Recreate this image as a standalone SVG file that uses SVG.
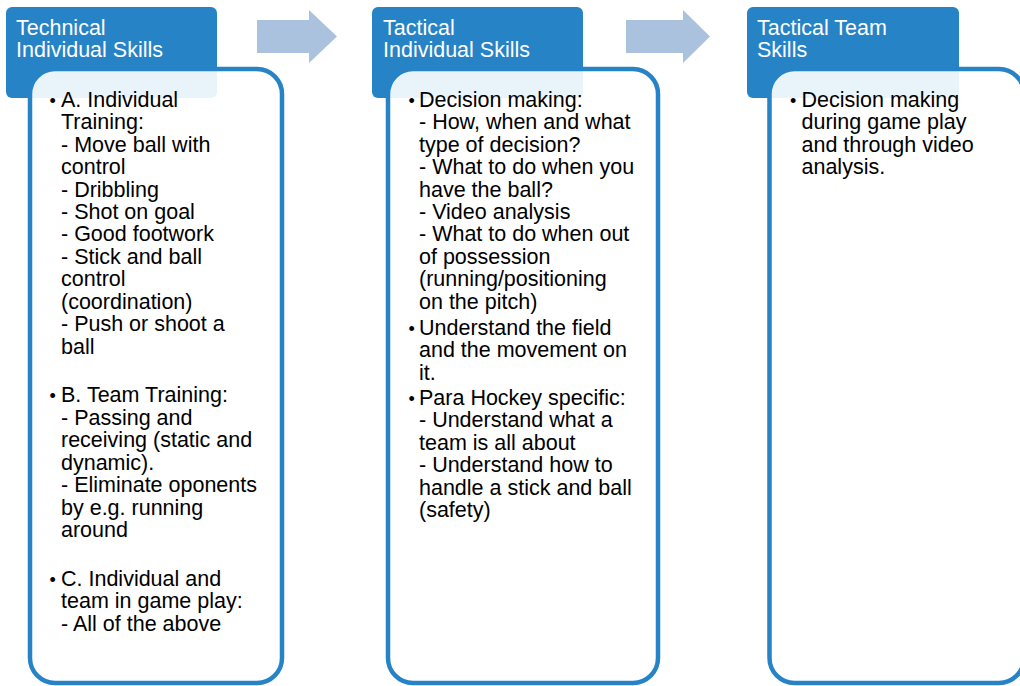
<svg xmlns="http://www.w3.org/2000/svg" width="1020" height="686" viewBox="0 0 1020 686">
<style>
.hdr{fill:#2683C6;}
.body{fill:#FFFFFF;fill-opacity:0.9;stroke:#2683C6;stroke-width:4.5;}
.ht{font-family:"Liberation Sans",Arial,sans-serif;font-size:21.5px;fill:#FFFFFF;}
.bt{font-family:"Liberation Sans",Arial,sans-serif;font-size:21.5px;fill:#000000;}
.bl{font-family:"Liberation Sans",Arial,sans-serif;font-size:18px;fill:#000000;}
.arr{fill:#ABC2DE;}
</style>
<rect width="1020" height="686" fill="#FFFFFF"/>
<g id="connectors">
  <polygon class="arr" points="257,20 309,20 309,10 337,36.5 309,63 309,53 257,53"/>
  <polygon class="arr" points="626,20 683,20 683,10 710,36.5 683,63 683,53 626,53"/>
</g>
<g id="node-technical">
  <rect class="hdr" x="6" y="7" width="211" height="91" rx="6"/>
  <rect class="body" x="30" y="69" width="252" height="614" rx="25"/>
  <text class="ht" x="16" y="35">Technical</text>
  <text class="ht" x="16" y="57">Individual Skills</text>
  <text class="bl" x="49.5" y="106.5">•</text>
  <text class="bl" x="49.5" y="402.1">•</text>
  <text class="bl" x="49.5" y="585.8">•</text>
  <text class="bt" x="61">
    <tspan x="61" y="106.7">A. Individual</tspan>
    <tspan x="61" y="129.15">Training:</tspan>
    <tspan x="61" y="151.6">- Move ball with</tspan>
    <tspan x="61" y="174.05">control</tspan>
    <tspan x="61" y="196.5">- Dribbling</tspan>
    <tspan x="61" y="218.95">- Shot on goal</tspan>
    <tspan x="61" y="241.4">- Good footwork</tspan>
    <tspan x="61" y="263.85">- Stick and ball</tspan>
    <tspan x="61" y="286.3">control</tspan>
    <tspan x="61" y="308.75">(coordination)</tspan>
    <tspan x="61" y="331.2">- Push or shoot a</tspan>
    <tspan x="61" y="353.65">ball</tspan>
    <tspan x="61" y="402.3">B. Team Training:</tspan>
    <tspan x="61" y="424.75">- Passing and</tspan>
    <tspan x="61" y="447.2">receiving (static and</tspan>
    <tspan x="61" y="469.65">dynamic).</tspan>
    <tspan x="61" y="492.1">- Eliminate oponents</tspan>
    <tspan x="61" y="514.55">by e.g. running</tspan>
    <tspan x="61" y="537">around</tspan>
    <tspan x="61" y="586">C. Individual and</tspan>
    <tspan x="61" y="608.45">team in game play:</tspan>
    <tspan x="61" y="630.9">- All of the above</tspan>
  </text>
</g>
<g id="node-tactical-individual">
  <rect class="hdr" x="372" y="7" width="211" height="91" rx="6"/>
  <rect class="body" x="388" y="69" width="270" height="614" rx="25"/>
  <text class="ht" x="383" y="35">Tactical</text>
  <text class="ht" x="383" y="57">Individual Skills</text>
  <text class="bl" x="408.5" y="106.5">•</text>
  <text class="bl" x="408.5" y="334.8">•</text>
  <text class="bl" x="408.5" y="404.8">•</text>
  <text class="bt" x="419">
    <tspan x="419" y="106.7">Decision making:</tspan>
    <tspan x="419" y="129.15">- How, when and what</tspan>
    <tspan x="419" y="151.6">type of decision?</tspan>
    <tspan x="419" y="174.05">- What to do when you</tspan>
    <tspan x="419" y="196.5">have the ball?</tspan>
    <tspan x="419" y="218.95">- Video analysis</tspan>
    <tspan x="419" y="241.4">- What to do when out</tspan>
    <tspan x="419" y="263.85">of possession</tspan>
    <tspan x="419" y="286.3">(running/positioning</tspan>
    <tspan x="419" y="308.75">on the pitch)</tspan>
    <tspan x="419" y="335">Understand the field</tspan>
    <tspan x="419" y="357.45">and the movement on</tspan>
    <tspan x="419" y="379.9">it.</tspan>
    <tspan x="419" y="405">Para Hockey specific:</tspan>
    <tspan x="419" y="427.45">- Understand what a</tspan>
    <tspan x="419" y="449.9">team is all about</tspan>
    <tspan x="419" y="472.35">- Understand how to</tspan>
    <tspan x="419" y="494.8">handle a stick and ball</tspan>
    <tspan x="419" y="517.25">(safety)</tspan>
  </text>
</g>
<g id="node-tactical-team">
  <rect class="hdr" x="747" y="7" width="212" height="91" rx="6"/>
  <rect class="body" x="769.5" y="69" width="254.5" height="614" rx="25"/>
  <text class="ht" x="757" y="35">Tactical Team</text>
  <text class="ht" x="757" y="57">Skills</text>
  <text class="bl" x="790" y="106.5">•</text>
  <text class="bt" x="801.5">
    <tspan x="801.5" y="106.7">Decision making</tspan>
    <tspan x="801.5" y="129.15">during game play</tspan>
    <tspan x="801.5" y="151.6">and through video</tspan>
    <tspan x="801.5" y="174.05">analysis.</tspan>
  </text>
</g>
</svg>
